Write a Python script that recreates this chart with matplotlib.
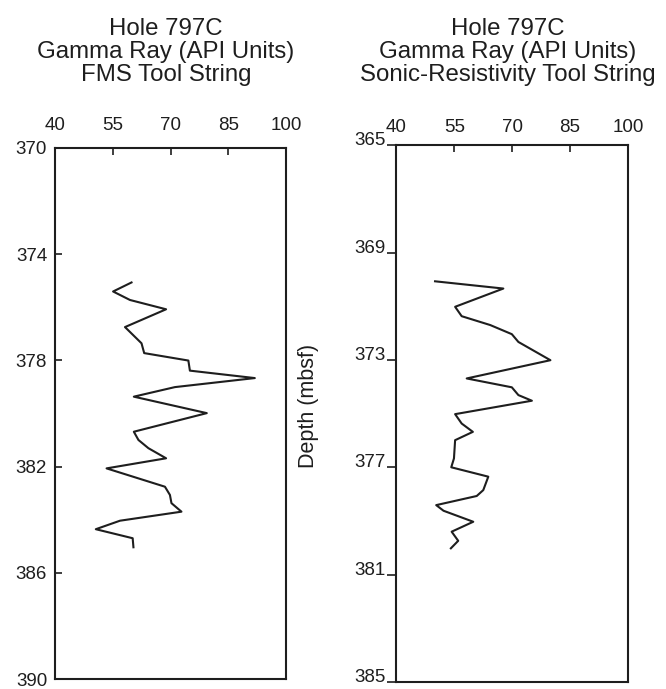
import matplotlib

matplotlib.use("Agg")
import matplotlib.pyplot as plt

plt.rcParams["font.family"] = ["Liberation Sans", "DejaVu Sans"]

INK = "#1e1e1e"

# Hole 797C gamma ray log, FMS tool string
FMS_DEPTH = [
    375.07, 375.41, 375.73, 376.08, 376.75, 377.36, 377.73, 378.01, 378.39,
    378.67, 379.01, 379.37, 379.99, 380.69, 381.00, 381.31, 381.69, 382.07,
    382.76, 383.07, 383.38, 383.70, 384.04, 384.36, 384.70, 385.04,
]
FMS_GAMMA = [
    59.8, 55.0, 59.4, 68.8, 58.1, 62.4, 63.1, 74.6, 75.0,
    91.9, 71.1, 60.4, 79.4, 60.4, 61.6, 64.2, 68.8, 53.3,
    68.5, 69.8, 70.2, 72.8, 56.8, 50.5, 60.1, 60.3,
]

# Hole 797C gamma ray log, sonic-resistivity tool string
SONIC_DEPTH = [
    370.07, 370.34, 371.02, 371.37, 371.70, 372.04, 372.33, 373.01, 373.69,
    374.02, 374.31, 374.52, 375.02, 375.37, 375.68, 375.99, 376.67, 377.00,
    377.35, 377.85, 378.07, 378.41, 378.62, 379.03, 379.40, 379.74, 380.02,
]
SONIC_GAMMA = [
    50.0, 67.7, 55.2, 56.9, 64.3, 69.9, 71.6, 79.9, 58.2,
    69.9, 71.6, 75.1, 55.2, 56.9, 59.8, 55.2, 54.9, 54.2,
    63.8, 62.5, 60.8, 50.3, 52.2, 59.9, 54.3, 56.0, 54.1,
]

GAMMA_TICKS = [40, 55, 70, 85, 100]
FMS_DEPTH_TICKS = [370, 374, 378, 382, 386, 390]
SONIC_DEPTH_TICKS = [365, 369, 373, 377, 381, 385]

FMS_TITLE = "Hole 797C\nGamma Ray (API Units)\nFMS Tool String"
SONIC_TITLE = "Hole 797C\nGamma Ray (API Units)\nSonic-Resistivity Tool String"

TICK_SIZE = 13.5
TITLE_SIZE = 17.3


def setup_log_axis(ax, depth_ticks, xpad):
    ax.set_xlim(GAMMA_TICKS[0], GAMMA_TICKS[-1])
    ax.set_ylim(depth_ticks[-1], depth_ticks[0])
    ax.set_xticks(GAMMA_TICKS)
    ax.set_yticks(depth_ticks)
    ax.xaxis.tick_top()
    ax.tick_params(
        axis="x", direction="in", length=5, width=1.2, pad=xpad,
        labelsize=TICK_SIZE, colors=INK,
    )
    for spine in ax.spines.values():
        spine.set_linewidth(1.5)
        spine.set_color(INK)


def draw_log(ax, gamma, depth):
    ax.plot(gamma, depth, color=INK, linewidth=1.5)


def main():
    fig = plt.figure(figsize=(6.66, 6.89), dpi=100)

    ax_fms = fig.add_axes([0.0833, 0.0145, 0.346, 0.771])
    ax_sonic = fig.add_axes([0.5953, 0.0102, 0.3476, 0.779])

    draw_log(ax_fms, FMS_GAMMA, FMS_DEPTH)
    setup_log_axis(ax_fms, FMS_DEPTH_TICKS, xpad=10)
    ax_fms.tick_params(
        axis="y", direction="in", length=5, width=1.2, pad=6,
        labelsize=TICK_SIZE, colors=INK,
    )

    draw_log(ax_sonic, SONIC_GAMMA, SONIC_DEPTH)
    setup_log_axis(ax_sonic, SONIC_DEPTH_TICKS, xpad=6.5)
    ax_sonic.tick_params(
        axis="y", direction="out", length=6.5, width=1.2, pad=1,
        labelsize=TICK_SIZE, colors=INK,
    )
    # labels sit on the tick like "365_"
    for label in ax_sonic.get_yticklabels():
        label.set_verticalalignment("baseline")

    ax_sonic.set_ylabel("Depth (mbsf)", fontsize=15.5, color=INK)
    ax_sonic.yaxis.set_label_coords(-0.335, 0.515)

    for ax, title in [(ax_fms, FMS_TITLE), (ax_sonic, SONIC_TITLE)]:
        box = ax.get_position()
        # multi-line baseline alignment anchors the last line
        fig.text(
            (box.x0 + box.x1) / 2 - 0.007, 1 - 81 / 689, title,
            ha="center", va="baseline", multialignment="center",
            fontsize=TITLE_SIZE, linespacing=1.05, color=INK,
        )

    fig.savefig("out.png", dpi=100)


if __name__ == "__main__":
    main()
